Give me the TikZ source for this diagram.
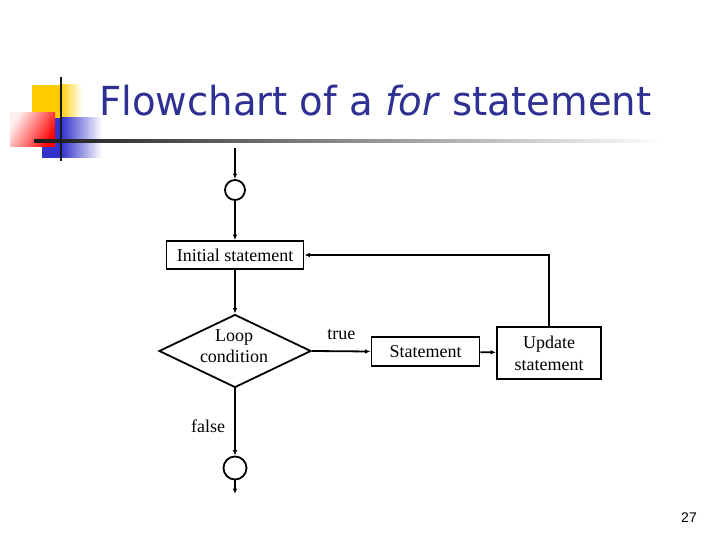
\documentclass[tikz,border=0pt]{standalone}
\usepackage{fontspec}
\setmainfont{Liberation Serif}
\newfontfamily\titlefont{DejaVu Sans}
\newfontfamily\numfont{Liberation Sans}
\usetikzlibrary{shapes.geometric,arrows.meta}
\definecolor{titleblue}{HTML}{2E3192}
\definecolor{logoyellow}{HTML}{FFCC00}
\definecolor{logoblue}{HTML}{3333CC}
\begin{document}
\begin{tikzpicture}[x=1pt,y=-1pt,
  flow/.style={line width=1.8pt,-{Latex[length=5.5pt,width=4.5pt]}},
  box/.style={draw,line width=1.8pt,rectangle,inner sep=0pt,align=center,font=\fontsize{18}{22}\selectfont},
  dec/.style={draw,line width=1.8pt,diamond,inner sep=0pt},
  conn/.style={draw,line width=1.8pt,circle,inner sep=0pt},
  lab/.style={inner sep=0pt,align=center,font=\fontsize{18}{21}\selectfont}
]
\useasboundingbox (0,0) rectangle (720,540);
% logo
\fill[logoyellow] (32,85) rectangle (60,118);
\shade[left color=logoyellow,right color=white] (59.5,85) rectangle (82,118);
\fill[logoblue] (42,118) rectangle (62,158);
\shade[left color=logoblue,right color=white] (61.5,118) rectangle (102,158);
\shade[left color=red!6,right color=red,shading angle=60] (10,113) rectangle (55,147);
\shade[left color=black!90,right color=white] (34,139.8) rectangle (665,142.6);
\fill[black!90] (60,77) rectangle (62.4,161);
% title
\node[anchor=base west,inner sep=0pt,text=titleblue,font=\titlefont\fontsize{40}{42}\selectfont] (title) at (99,116) {\scalebox{0.965}[1]{Flowchart of a \textit{for} statement}};
% page number
\node[anchor=base,inner sep=0pt,font=\numfont\fontsize{14}{16}\selectfont] (pnum) at (689,522) {27};
% flowchart
\coordinate (start) at (235,148);
\node[conn,minimum size=20pt] (c1) at (235,190) {};
\node[box,minimum width=137pt,minimum height=28pt] (init) at (235,255) {Initial statement};
\node[dec,minimum width=152pt,minimum height=73pt,
  label={[lab,name=condtext,yshift=5pt,xshift=-1pt]center:Loop\\condition}] (cond) at (235,351) {};
\node[box,minimum width=104pt,minimum height=52pt] (upd) at (549,353) {Update\\statement};
\node[box,minimum width=108pt,minimum height=29pt] (stmt) at (425.5,351.5) {Statement};
\node[conn,minimum size=23pt] (c2) at (235,468) {};
\coordinate (stop) at (235,494);
\draw[flow] (start) -- (c1);
\draw[flow] (c1) -- (init);
\draw[flow] (init) -- (cond);
\draw[flow] (cond.east) -- (stmt.west) node[lab,pos=0.5,above=11pt] (truelab) {true};
\draw[flow] (stmt) -- (upd);
\draw[flow] (upd.north) |- (init.east);
\draw[flow] (cond.south) -- (c2) node[lab,pos=0.56,left=9pt] (falselab) {false};
\draw[flow] (c2) -- (stop);
\end{tikzpicture}
\end{document}
